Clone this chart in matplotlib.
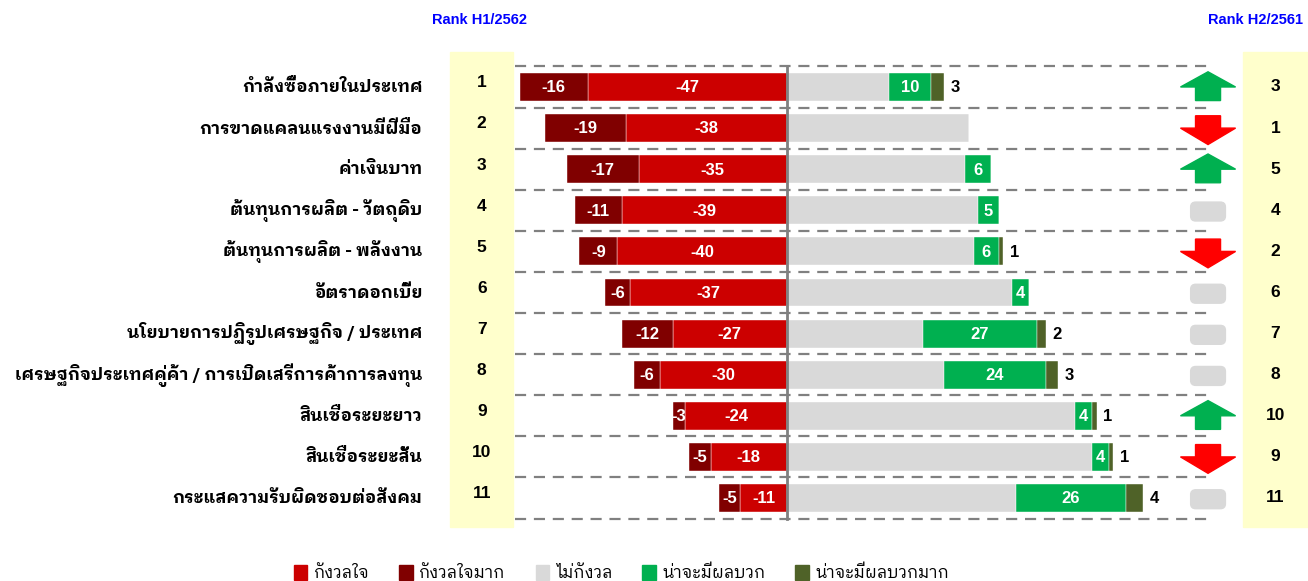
import matplotlib
matplotlib.use('Agg')
from matplotlib import pyplot as plt
from matplotlib import font_manager
from matplotlib.ft2font import FT2Font
from matplotlib.patches import Polygon, FancyBboxPatch, Rectangle
import numpy as np

# Dados
categorias = ['กำลังซื้อภายในประเทศ', 'การขาดแคลนแรงงานมีฝีมือ', 'ค่าเงินบาท',
              'ต้นทุนการผลิต - วัตถุดิบ', 'ต้นทุนการผลิต - พลังงาน', 'อัตราดอกเบี้ย',
              'นโยบายการปฏิรูปเศรษฐกิจ / ประเทศ',
              'เศรษฐกิจประเทศคู่ค้า / การเปิดเสรีการค้าการลงทุน',
              'สินเชื่อระยะยาว', 'สินเชื่อระยะสั้น', 'กระแสความรับผิดชอบต่อสังคม']
gangwon_mak = [-16, -19, -17, -11, -9, -6, -12, -6, -3, -5, -5]
gangwon = [-47, -38, -35, -39, -40, -37, -27, -30, -24, -18, -11]
phon_buak = [10, 0, 6, 5, 6, 4, 27, 24, 4, 4, 26]
phon_buak_mak = [3, 0, 0, 0, 1, 0, 2, 3, 1, 1, 4]
rank_h1_2562 = [1, 2, 3, 4, 5, 6, 7, 8, 9, 10, 11]
rank_h2_2561 = [3, 1, 5, 4, 2, 6, 7, 8, 10, 9, 11]
legenda = ['กังวลใจ', 'กังวลใจมาก', 'ไม่กังวล', 'น่าจะมีผลบวก', 'น่าจะมีผลบวกมาก']

# Cores
c_gangwon = '#CC0000'
c_mak = '#800000'
c_cinza = '#D9D9D9'
c_verde = '#00B050'
c_oliva = '#4F6228'


# Procurar uma fonte com glifos tailandeses
def fonte_thai():
    achadas = []
    for f in font_manager.fontManager.ttflist:
        try:
            if 0x0E01 in FT2Font(f.fname).get_charmap():
                achadas.append(f.name)
        except Exception:
            pass
    achadas = sorted(set(achadas), key=lambda n: (('Looped' not in n), ('Thai' not in n), n))
    return achadas


thai = fonte_thai()
familia_thai = (thai[:1] if thai else []) + ['DejaVu Sans']
familia_num = ['Liberation Sans', 'DejaVu Sans']

# Valores não preocupados = resto até 100
n = len(categorias)
y = np.arange(n)
mak = np.array(gangwon_mak)
gw = np.array(gangwon)
pb = np.array(phon_buak)
pbm = np.array(phon_buak_mak)
cinza = 100 + gw + mak - pb - pbm

fig = plt.figure(figsize=(13.08, 5.81), dpi=100)
ax = fig.add_axes([0, 0, 1, 1])
esc = 4.24  # px por unidade
ax.set_xlim(-787 / esc, (1308 - 787) / esc)
ax.set_ylim((581 - 87) / 41.1, -87 / 41.1)
ax.axis('off')

# Caixas amarelas dos ranks
ax.add_patch(Rectangle((-79.5, -0.85), 14.9, 11.55, color='#FFFFCC', zorder=0))
ax.add_patch(Rectangle((107.5, -0.85), 16, 11.55, color='#FFFFCC', zorder=0))

# Linhas tracejadas
for i in range(n + 1):
    ax.plot([-64.2, 99], [i - 0.5, i - 0.5], color='#808080', lw=1.6,
            dashes=(5, 3.5), zorder=1)

h = 0.68
ax.barh(y, gw, height=h, color=c_gangwon, edgecolor='white', lw=0.3, zorder=2)
ax.barh(y, mak, left=gw, height=h, color=c_mak, edgecolor='white', lw=0.3, zorder=2)
ax.barh(y, cinza, height=h, color=c_cinza, edgecolor='white', lw=0.3, zorder=2)
ax.barh(y, pb, left=cinza, height=h, color=c_verde, edgecolor='white', lw=0.3, zorder=2)
ax.barh(y, pbm, left=cinza + pb, height=h, color=c_oliva, edgecolor='white', lw=0.3, zorder=2)

ax.plot([0, 0], [-0.52, n - 0.48], color='#808080', lw=2, zorder=3)

fs = 12
for i in range(n):
    ax.text(gw[i] / 2, i + 0.02, str(gw[i]), color='white', fontsize=fs, fontweight='bold',
            family=familia_num, ha='center', va='center', zorder=4)
    ax.text(gw[i] + mak[i] / 2, i + 0.02, str(mak[i]), color='white', fontsize=fs,
            fontweight='bold', family=familia_num, ha='center', va='center', zorder=4)
    if pb[i] > 0:
        ax.text(cinza[i] + pb[i] / 2, i + 0.02, str(pb[i]), color='white', fontsize=fs,
                fontweight='bold', family=familia_num, ha='center', va='center', zorder=4)
    if pbm[i] > 0:
        ax.text(cinza[i] + pb[i] + pbm[i] + 1.5, i + 0.02, str(pbm[i]), color='black',
                fontsize=fs, fontweight='bold', family=familia_num, ha='left', va='center',
                zorder=4)
    # nomes
    ax.text(-86, i, categorias[i], fontsize=12.4, fontweight='bold', family=familia_thai,
            ha='right', va='center')
    # ranks
    ax.text(-72, i - 0.1, str(rank_h1_2562[i]), fontsize=12.5, fontweight='bold',
            family=familia_num, ha='center', va='center')
    ax.text(115.2, i, str(rank_h2_2561[i]), fontsize=12.5, fontweight='bold',
            family=familia_num, ha='center', va='center')

    # setas
    xc = 99.3
    if rank_h1_2562[i] < rank_h2_2561[i]:
        pts = [(xc - 6.5, i - 0.0), (xc, i - 0.37), (xc + 6.5, i - 0.0), (xc + 2.95, i - 0.0),
               (xc + 2.95, i + 0.33), (xc - 2.95, i + 0.33), (xc - 2.95, i - 0.0)]
        ax.add_patch(Polygon(pts, closed=True, color=c_verde, zorder=3))
    elif rank_h1_2562[i] > rank_h2_2561[i]:
        pts = [(xc - 6.5, i + 0.0), (xc, i + 0.4), (xc + 6.5, i + 0.0), (xc + 2.95, i + 0.0),
               (xc + 2.95, i - 0.3), (xc - 2.95, i - 0.3), (xc - 2.95, i + 0.0)]
        ax.add_patch(Polygon(pts, closed=True, color='#FF0000', zorder=3))
    else:
        ax.add_patch(FancyBboxPatch((xc - 4.1, i - 0.2), 8.2, 0.46,
                                    boxstyle='round,pad=0,rounding_size=1.2',
                                    mutation_aspect=0.1, color=c_cinza, zorder=3))

# Títulos
fig.text(480 / 1308, 1 - 20 / 581, 'Rank H1/2562', color='#0000FF', fontsize=10.5,
         fontweight='bold', family=familia_num, ha='center', va='center')
fig.text(1256 / 1308, 1 - 20 / 581, 'Rank H2/2561', color='#0000FF', fontsize=10.5,
         fontweight='bold', family=familia_num, ha='center', va='center')

# Legenda
cores_leg = [c_gangwon, c_mak, c_cinza, c_verde, c_oliva]
handles = [Rectangle((0, 0), 1, 1, color=c) for c in cores_leg]
fig.legend(handles, legenda, loc='center', bbox_to_anchor=(0.475, 1 - 573 / 581), ncol=5,
           frameon=False, handlelength=0.8, handleheight=1.0, handletextpad=0.4,
           columnspacing=1.8, prop={'family': familia_thai, 'size': 12})

fig.savefig('out.png', dpi=100)
